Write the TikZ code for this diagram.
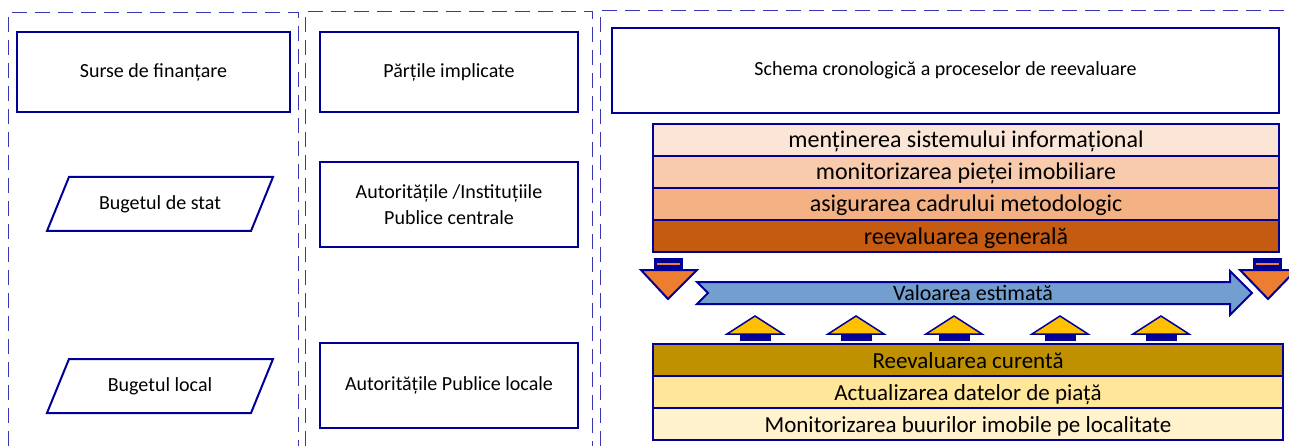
\documentclass[tikz,border=0pt]{standalone}
\usepackage{fontspec}
\setmainfont{Carlito}
\definecolor{navy}{RGB}{0,0,150}
\definecolor{dashc}{RGB}{55,55,180}
\definecolor{pA}{RGB}{251,229,214}
\definecolor{pB}{RGB}{248,203,173}
\definecolor{pC}{RGB}{244,177,131}
\definecolor{pD}{RGB}{197,90,17}
\definecolor{gA}{RGB}{191,144,0}
\definecolor{gB}{RGB}{255,230,153}
\definecolor{gC}{RGB}{255,242,204}
\definecolor{arrblue}{RGB}{114,159,207}
\definecolor{arrorange}{RGB}{237,125,49}
\definecolor{arryellow}{RGB}{255,192,0}
\tikzset{
  dashline/.style={draw=dashc, line width=1pt, dash pattern=on 15pt off 8pt},
  hbox/.style={draw=navy, line width=2pt, fill=white, inner sep=0pt, align=center, font=\fontsize{20}{26}\selectfont},
  txt/.style={inner sep=0pt, align=center, font=\fontsize{20}{26}\selectfont},
  rowbox/.style={draw=navy, line width=2pt, inner sep=0pt, outer sep=0pt, minimum width=626pt, minimum height=32pt, text height=18pt, text depth=2pt, font=\fontsize{24}{26}\selectfont},
  shapeline/.style={draw=navy, line width=2pt, line join=miter},
}
\begin{document}
\begin{tikzpicture}[x=1pt,y=-1pt]
\useasboundingbox (0,0) rectangle (1289,446);
% dashed columns
\draw[dashline] (8,446) -- (8,13) -- (298,13) -- (298,446);
\draw[dashline] (305,446) -- (305,12) -- (592,12) -- (592,446);
\draw[dashline] (600,446) -- (600,11) -- (1289,11);
% column 1
\node[hbox, minimum width=273pt, minimum height=80pt] (h1) at (153.5,72) {Surse de finanțare};
\draw[shapeline] (69,177) -- (273,177) -- (251,231) -- (47,231) -- cycle;
\node[txt] (bs) at (160,204) {Bugetul de stat};
\draw[shapeline] (69,359) -- (273,359) -- (251,413) -- (47,413) -- cycle;
\node[txt] (bl) at (160,386) {Bugetul local};
% column 2
\node[hbox, minimum width=258pt, minimum height=80pt] (h2) at (449,72) {Părțile implicate};
\node[hbox, minimum width=258pt, minimum height=85pt] (pc) at (449,204.5) {Autoritățile /Instituțiile\\Publice centrale};
\node[hbox, minimum width=258pt, minimum height=85pt] (pl) at (449,385.5) {Autoritățile Publice locale};
% column 3
\node[hbox, minimum width=667pt, minimum height=85pt] (h3) at (945.5,70.5) {Schema cronologică a proceselor de reevaluare};
\node[rowbox, fill=pA] (r1) at (966,140) {menținerea sistemului informațional};
\node[rowbox, fill=pB, anchor=north] (r2) at (r1.south) {monitorizarea pieței imobiliare};
\node[rowbox, fill=pC, anchor=north] (r3) at (r2.south) {asigurarea cadrului metodologic};
\node[rowbox, fill=pD, anchor=north] (r4) at (r3.south) {reevaluarea generală};
% down arrows
\fill[navy] (654,258) rectangle (683,271);
\draw[arrorange, line width=1.5pt] (657,264) -- (680,264);
\filldraw[fill=arrorange, shapeline] (641,270) -- (697,270) -- (668,299) -- cycle;
\fill[navy] (1253,258) rectangle (1282,271);
\draw[arrorange, line width=1.5pt] (1256,264) -- (1279,264);
\filldraw[fill=arrorange, shapeline] (1240,270) -- (1296,270) -- (1268,299) -- cycle;
% big arrow
\filldraw[fill=arrblue, shapeline] (697,282) -- (1230,282) -- (1230,271) -- (1252,293) -- (1230,315) -- (1230,304) -- (697,304) -- (708,293) -- cycle;
\node[txt, font=\fontsize{22}{24}\selectfont] (va) at (973,293) {Valoarea estimată};
% up arrows
\foreach \c in {755,856,954,1060,1161}{
  \fill[navy] (\c-15,333) rectangle (\c+16,341);
  \filldraw[fill=arryellow, draw=navy, line width=1.5pt, line join=miter] (\c-28,334) -- (\c,316) -- (\c+28,334) -- cycle;
}
% bottom stack
\node[rowbox, fill=gA, minimum width=630pt, font=\fontsize{23}{26}\selectfont] (b1) at (968,360) {Reevaluarea curentă};
\node[rowbox, fill=gB, minimum width=630pt, font=\fontsize{23}{26}\selectfont, anchor=north] (b2) at (b1.south) {Actualizarea datelor de piață};
\node[rowbox, fill=gC, minimum width=630pt, font=\fontsize{23}{26}\selectfont, anchor=north] (b3) at (b2.south) {Monitorizarea buurilor imobile pe localitate};
\end{tikzpicture}
\end{document}
